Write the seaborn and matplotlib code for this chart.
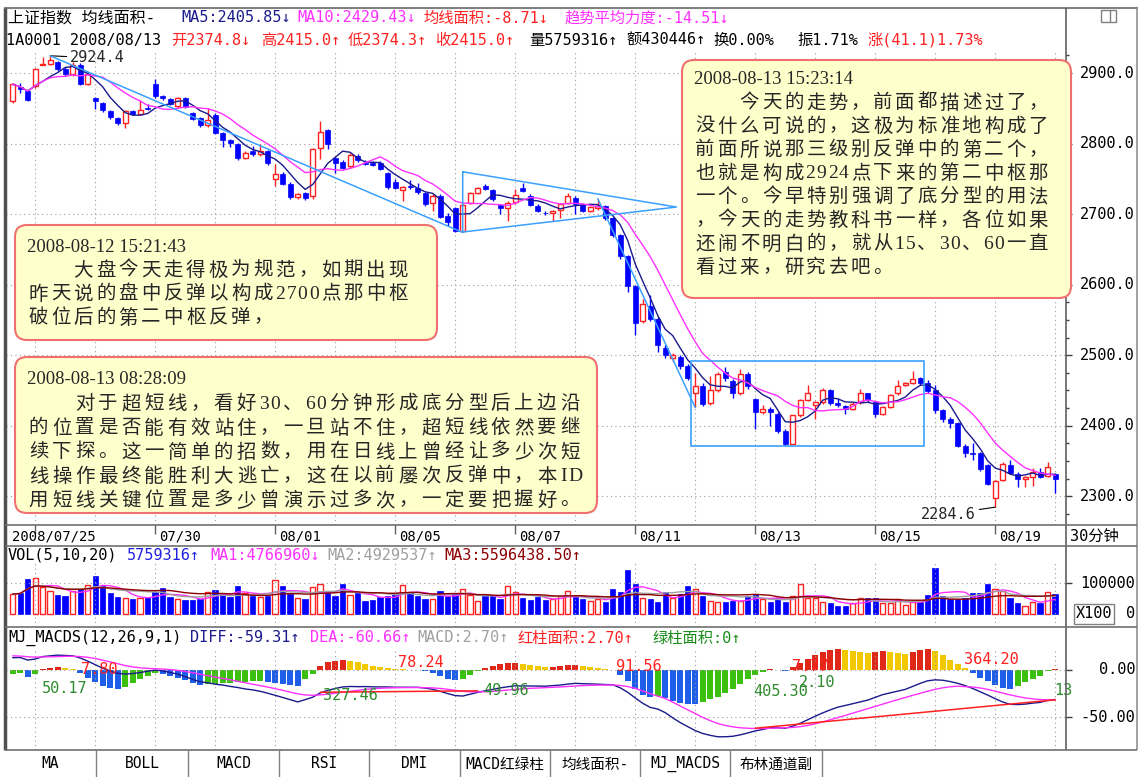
import numpy as np
import pandas as pd
import matplotlib
matplotlib.use("Agg")
import matplotlib.pyplot as plt
from matplotlib.patches import FancyBboxPatch, Rectangle
import seaborn as sns

# 30 minute bars of the Shanghai composite, 2008/07/25 .. 2008/08/19
opens = [2861, 2880, 2875, 2881, 2912, 2913, 2915, 2906, 2898, 2912,
         2885, 2864, 2857, 2846, 2836, 2829, 2846, 2842, 2850, 2884,
         2867, 2863, 2853, 2864, 2843, 2836, 2826, 2841, 2815, 2805,
         2799, 2780, 2789, 2785, 2789, 2750, 2757, 2743, 2724, 2730,
         2726, 2793, 2819, 2779, 2774, 2768, 2783, 2773, 2772, 2773,
         2758, 2745, 2734, 2740, 2737, 2730, 2716, 2726, 2697, 2708,
         2676, 2716, 2730, 2740, 2734, 2713, 2709, 2717, 2737, 2726,
         2712, 2702, 2701, 2706, 2716, 2723, 2714, 2705, 2708, 2711,
         2694, 2670, 2640, 2598, 2548, 2570, 2552, 2510, 2496, 2498,
         2485, 2446, 2457, 2432, 2450, 2476, 2464, 2446, 2474, 2438,
         2419, 2424, 2417, 2393, 2374.8, 2415, 2437, 2430, 2433, 2451,
         2432, 2428, 2424, 2433, 2446, 2433, 2417, 2427, 2446, 2458,
         2460, 2467, 2460, 2450, 2422, 2410, 2404, 2372, 2362, 2361,
         2344, 2297, 2323, 2344, 2332, 2324, 2327, 2334, 2329, 2331]
highs = [2886, 2886, 2877, 2907, 2922, 2924.4, 2917, 2908, 2916, 2914,
         2900, 2866, 2859, 2848, 2838, 2848, 2848, 2862, 2856, 2892,
         2869, 2865, 2866, 2866, 2845, 2838, 2851, 2843, 2817, 2807,
         2801, 2789, 2796, 2799, 2791, 2771, 2759, 2745, 2730, 2732,
         2794, 2832, 2821, 2781, 2776, 2786, 2785, 2776, 2775, 2775,
         2760, 2750, 2740, 2748, 2744, 2732, 2728, 2728, 2701, 2710,
         2715, 2732, 2739, 2742, 2736, 2715, 2718, 2735, 2744, 2728,
         2714, 2704, 2706, 2716, 2730, 2725, 2716, 2712, 2722, 2713,
         2696, 2672, 2642, 2600, 2580, 2585, 2554, 2515, 2503, 2500,
         2487, 2475, 2461, 2470, 2476, 2483, 2466, 2480, 2476, 2440,
         2430, 2426, 2419, 2395, 2415.0, 2438, 2458, 2435, 2453, 2452,
         2440, 2430, 2433, 2452, 2447, 2435, 2428, 2445, 2465, 2462,
         2478, 2469, 2465, 2458, 2424, 2412, 2406, 2374, 2376, 2363,
         2346, 2323, 2348, 2352, 2334, 2329, 2340, 2340, 2348, 2333]
lows = [2858, 2872, 2860, 2879, 2911, 2912, 2903, 2896, 2896, 2883,
        2883, 2849, 2845, 2835, 2827, 2822, 2840, 2840, 2847, 2865,
        2862, 2854, 2851, 2850, 2833, 2824, 2824, 2813, 2795, 2795,
        2776, 2778, 2783, 2783, 2770, 2740, 2741, 2722, 2722, 2720,
        2722, 2778, 2792, 2758, 2764, 2766, 2774, 2769, 2768, 2762,
        2736, 2735, 2718, 2736, 2729, 2712, 2705, 2694, 2683, 2674,
        2674, 2714, 2728, 2734, 2719, 2700, 2690, 2715, 2731, 2711,
        2703, 2699, 2690, 2695, 2714, 2700, 2703, 2703, 2706, 2692,
        2668, 2636, 2590, 2528, 2545, 2548, 2505, 2496, 2490, 2480,
        2465, 2426, 2428, 2430, 2448, 2464, 2440, 2444, 2452, 2395,
        2416, 2400, 2390, 2372, 2374.3, 2412, 2435, 2409, 2431, 2430,
        2427, 2417, 2422, 2431, 2434, 2413, 2415, 2425, 2444, 2456,
        2459, 2458, 2447, 2418, 2405, 2397, 2370, 2355, 2352, 2336,
        2316, 2284.6, 2321, 2331, 2313, 2313, 2314, 2326, 2327, 2305]
closes = [2884, 2877, 2862, 2905, 2913, 2918, 2905, 2898, 2912, 2885,
          2898, 2860, 2847, 2837, 2829, 2846, 2842, 2847, 2849, 2867,
          2864, 2856, 2864, 2852, 2835, 2826, 2834, 2815, 2805, 2801,
          2780, 2787, 2785, 2789, 2772, 2757, 2743, 2724, 2728, 2723,
          2792, 2817, 2799, 2772, 2766, 2784, 2776, 2771, 2770, 2764,
          2738, 2737, 2738, 2738, 2731, 2714, 2726, 2696, 2689, 2676,
          2713, 2730, 2737, 2736, 2721, 2709, 2716, 2727, 2733, 2713,
          2705, 2701, 2704, 2714, 2726, 2715, 2705, 2710, 2711, 2694,
          2670, 2640, 2598, 2545, 2572, 2552, 2515, 2500, 2500, 2484,
          2468, 2457, 2431, 2450, 2474, 2467, 2446, 2474, 2457, 2419,
          2424, 2419, 2393, 2374, 2415.0, 2436, 2446, 2433, 2451, 2432,
          2429, 2424, 2431, 2446, 2436, 2417, 2426, 2443, 2457, 2460,
          2466, 2460, 2449, 2422, 2410, 2404, 2372, 2362, 2360, 2339,
          2318, 2321, 2346, 2333, 2325, 2327, 2334, 2328, 2342, 2325]
# volume in units of 100 shares
volumes = [65000, 69000, 112000, 118000, 88000, 76000, 62000, 59000, 76000, 80000,
           95000, 122000, 92000, 70000, 55000, 52000, 50000, 52000, 57000, 72000,
           83000, 55000, 48000, 45000, 47000, 50000, 72000, 77000, 66000, 55000,
           91000, 70000, 59000, 55000, 60000, 111000, 90000, 65000, 52000, 48000,
           88000, 97000, 70000, 59000, 96000, 62000, 70000, 42000, 45000, 55000,
           60000, 70000, 95000, 73000, 60000, 48000, 48000, 75000, 60000, 65000,
           80000, 62000, 42000, 58000, 60000, 48000, 90000, 72000, 52000, 45000,
           55000, 45000, 48000, 60000, 75000, 55000, 48000, 42000, 50000, 38000,
           80000, 72000, 141000, 99000, 51000, 48000, 40000, 72000, 54000, 65000,
           90000, 80000, 58000, 44000, 40000, 40000, 44000, 44000, 58000, 65000,
           48000, 40000, 51000, 40000, 57593, 97000, 51000, 51000, 40000, 37000,
           27000, 27000, 35000, 54000, 54000, 51000, 37000, 37000, 48000, 30000,
           40000, 40000, 62000, 149000, 58000, 48000, 48000, 51000, 70000, 70000,
           97000, 80000, 76000, 51000, 37000, 27000, 40000, 37000, 72000, 65000]
# MJ_MACDS(12,26,9,1): DEA line and MACD bars
dea = [15, 14.7, 14.0, 13.6, 13.7, 13.9, 14.2, 14.4, 14.5, 14.2,
       13.4, 12.1, 10.4, 8.5, 6.5, 4.7, 3.3, 2.3, 1.7, 1.4,
       1.0, 0.4, -0.4, -1.5, -2.9, -4.5, -6.0, -7.5, -8.9, -10.3,
       -12, -13.5, -15, -16.5, -18, -19.7, -21.5, -23.3, -25.2, -26.3,
       -26.7, -26.3, -25.5, -24.5, -23.4, -22.4, -21.6, -20.5, -19.8, -19.3,
       -18.9, -18.7, -18.6, -18.55, -18.5, -18.6, -18.9, -19.5, -20.4, -21.5,
       -22.5, -23, -23.1, -22.9, -22.5, -21.9, -21.2, -20.45, -19.85, -19.35,
       -18.95, -18.65, -18.3, -17.9, -17.4, -16.85, -16.45, -16.15, -15.95, -15.85,
       -15.8, -16.3, -17.5, -19.5, -22.1, -25, -27.7, -30, -34, -38,
       -42, -46, -50, -53.5, -56.5, -58.5, -60, -61, -61.5, -61.8,
       -61.8, -61.5, -61.2, -61, -60.66, -59.8, -58.5, -56.8, -54.8, -52.6,
       -50.3, -48, -45.6, -43.2, -40.8, -38.4, -36, -33.6, -31.3, -29,
       -26.8, -24.6, -22.4, -20.4, -18.8, -17.7, -17.1, -17.5, -18, -19,
       -20.5, -22.3, -24.3, -26.3, -28, -29.5, -30.5, -31.2, -31.5, -31.5]
macd = [-4, -3, -7, -4, 1, 2, 3, 2, 1, -3,
        -8, -13, -17, -19, -20, -18, -14, -10, -6, -3,
        -4, -6, -8, -11, -14, -16, -15, -15, -14, -14,
        -13, -13, -12, -12, -13, -14, -15, -16, -17, -10,
        -4, 4, 8, 10, 11, 10, 8, 6, 4, 3,
        2, 1, 0.8, 0.5, 0.4, -1, -3, -6, -9, -11,
        -10, -5, -1, 2, 4, 6, 7, 7.5, 6, 5,
        4, 3, 3.5, 4, 5, 5.5, 4, 3, 2, 1,
        0.5, -5, -12, -20, -26, -29, -27, -30, -33, -35,
        -35.5, -36, -34, -31, -28, -24, -20, -15, -10, -5,
        -2, 1, 0.5, -1, 2.7, 7, 12, 16, 19, 21,
        22, 21, 20, 19, 18, 19, 20, 19, 18, 17,
        19, 21, 22, 20, 16, 11, 6, 2, -3, -8,
        -12, -16, -19, -20, -17, -13, -9, -6, -1, 0.8]
date_labels = ["2008/07/25", "07/30", "08/01", "08/05", "08/07",
               "08/11", "08/13", "08/15", "08/19"]
date_bars = [3, 19, 35, 51, 67, 83, 99, 115, 131]
price_ticks = [2300, 2400, 2500, 2600, 2700, 2800, 2900]
tabs = ["MA", "BOLL", "MACD", "RSI", "DMI", "MACD红绿柱", "均线面积-", "MJ_MACDS", "布林通道副"]

note1 = ["2008-08-12 15:21:43",
         "\u3000\u3000大盘今天走得极为规范，如期出现",
         "昨天说的盘中反弹以构成2700点那中枢",
         "破位后的第二中枢反弹，"]
note2 = ["2008-08-13 08:28:09",
         "\u3000\u3000对于超短线，看好30、60分钟形成底分型后上边沿",
         "的位置是否能有效站住，一旦站不住，超短线依然要继",
         "续下探。这一简单的招数，用在日线上曾经让多少次短",
         "线操作最终能胜利大逃亡，这在以前屡次反弹中，本ID",
         "用短线关键位置是多少曾演示过多次，一定要把握好。"]
note3 = ["2008-08-13 15:23:14",
         "\u3000\u3000今天的走势，前面都描述过了，",
         "没什么可说的，这极为标准地构成了",
         "前面所说那三级别反弹中的第二个，",
         "也就是构成2924点下来的第二中枢那",
         "一个。今早特别强调了底分型的用法",
         "，今天的走势教科书一样，各位如果",
         "还闹不明白的，就从15、30、60一直",
         "看过来，研究去吧。"]

sns.set_theme(style="white")
MONO = ["DejaVu Sans Mono", "Noto Sans CJK SC"]
SERIF = ["Liberation Serif", "Noto Sans CJK SC"]
plt.rcParams["font.family"] = MONO

W, H = 1141, 777
X0, DX = 12.7, 7.5
RED, BLUE, NAVY, MAG = "#FF2020", "#0000FF", "#1A1A8C", "#FF30FF"
LB = "#3AA0FF"
GRID = dict(colors="#9A9A9A", lw=0.8, linestyles=(0, (1, 3)))


def px_bar(px):
    return (px - X0) / DX


def py_price(py):
    return 2900 - (py - 73) / 0.7055


def py_vol(py):
    return (614.3 - py) / 31.1 * 100000


def py_macd(py):
    return (670 - py) / 0.947


fig = plt.figure(figsize=(W / 100, H / 100), dpi=100)


def add_ax(x0, y0, x1, y1):
    ax = fig.add_axes([x0 / W, 1 - y1 / H, (x1 - x0) / W, (y1 - y0) / H])
    ax.axis("off")
    return ax


df = pd.DataFrame({"open": opens, "high": highs, "low": lows,
                   "close": closes, "vol": volumes})
df["x"] = np.arange(len(df))
up = df[df.close >= df.open]
dn = df[df.close < df.open]
grid_bars = np.arange(3, len(df), 8)

# ---- price panel ----
pax = add_ax(6, 8, 1066, 525)
pax.hlines(price_ticks, px_bar(6), px_bar(1066), **GRID)
pax.vlines(grid_bars, py_price(525), py_price(50), **GRID)
pax.vlines(dn.x, dn.low, dn.high, color=BLUE, lw=1)
pax.bar(dn.x, (dn.open - dn.close).clip(lower=0.9), bottom=dn.close,
        width=0.7, color=BLUE, edgecolor=BLUE, lw=0.5, zorder=3)
pax.vlines(up.x, up.close, up.high, color=RED, lw=1)
pax.vlines(up.x, up.low, up.open, color=RED, lw=1)
pax.bar(up.x, (up.close - up.open).clip(lower=0.9), bottom=up.open,
        width=0.7, facecolor="white", edgecolor=RED, lw=1, zorder=3)
sns.lineplot(x=df.x, y=df.close.rolling(5, min_periods=1).mean(), ax=pax,
             color=NAVY, lw=1, zorder=4)
sns.lineplot(x=df.x, y=df.close.rolling(10, min_periods=1).mean(), ax=pax,
             color=MAG, lw=1, zorder=4)
# hand drawn lines
pax.plot([5, 60], [2924.4, 2674], color=LB, lw=1.1, zorder=5)
pax.plot([60, 60, 88.5, 60], [2760, 2674.6, 2710, 2760], color=LB, lw=1.1, zorder=5)
pax.plot([78, 91], [2722, 2426], color=LB, lw=1.1, zorder=5)
pax.add_patch(Rectangle((90.5, 2371.3), 31, 120.5, fill=False, edgecolor=LB,
                        lw=1.2, zorder=5))
arrow = dict(arrowstyle="-", color="black", lw=0.8, shrinkA=0, shrinkB=0)
pax.annotate("2924.4", xy=(5, 2924.4), xytext=(px_bar(70), py_price(58)),
             fontsize=11, ha="left", va="center", arrowprops=arrow)
pax.annotate("2284.6", xy=(131, 2284.6), xytext=(px_bar(976), py_price(514)),
             fontsize=11, ha="right", va="center", arrowprops=arrow)
pax.set_xlim(px_bar(6), px_bar(1066))
pax.set_ylim(py_price(525), py_price(8))

# ---- volume panel ----
vax = add_ax(6, 546, 1066, 627)
vax.hlines([100000], px_bar(6), px_bar(1066), **GRID)
vax.vlines(grid_bars, py_vol(627), py_vol(563), **GRID)
vax.bar(dn.x, dn.vol, width=0.72, color=BLUE, edgecolor=BLUE, lw=0.5)
vax.bar(up.x, up.vol, width=0.72, facecolor="white", edgecolor=RED, lw=1)
for n, c in [(5, MAG), (10, "#A0A0A0"), (20, "#8B0000")]:
    sns.lineplot(x=df.x, y=df.vol.rolling(n, min_periods=1).mean(), ax=vax,
                 color=c, lw=1, zorder=4)
vax.set_xlim(px_bar(6), px_bar(1066))
vax.set_ylim(py_vol(627), py_vol(546))

# ---- MJ_MACDS panel ----
mac = pd.Series(macd, dtype=float)
dea_s = pd.Series(dea, dtype=float)
diff_s = dea_s + mac / 2
cols = []
for i, v in enumerate(macd):
    p = macd[i - 1] if i else v - 1
    if v >= 0:
        cols.append("#E02818" if v >= p else "#F2C800")
    else:
        cols.append("#1E5EE8" if v < p else "#3CC010")
max_ = add_ax(6, 627, 1066, 750)
max_.hlines([0, -50], px_bar(6), px_bar(1066), **GRID)
max_.vlines(grid_bars, py_macd(750), py_macd(648), **GRID)
max_.bar(df.x, mac, width=0.82, color=cols, lw=0)
sns.lineplot(x=df.x, y=diff_s, ax=max_, color=NAVY, lw=1, zorder=4)
sns.lineplot(x=df.x, y=dea_s, ax=max_, color=MAG, lw=1, zorder=4)
max_.plot([41, 62], [-23.5, -22], color=RED, lw=1.1, zorder=5)
max_.plot([99, 139], [-61.5, -31.5], color=RED, lw=1.1, zorder=5)
GR = "#2E8B2E"
for s, xb, yv, c in [("50.17", 3.9, -20, GR), ("7.80", 9.1, 0, RED),
                     ("327.46", 41.4, -27, GR), ("78.24", 51.4, 8, RED),
                     ("49.96", 62.7, -22, GR), ("91.56", 80.4, 3.5, RED),
                     ("405.30", 98.7, -23, GR), ("7.77", 103.9, 3.5, RED),
                     ("2.10", 104.8, -13, GR), ("364.20", 126.8, 11.6, RED),
                     ("13", 138.8, -22, GR)]:
    max_.text(xb, yv, s, color=c, fontsize=11, ha="left", va="center", zorder=6)
max_.set_xlim(px_bar(6), px_bar(1066))
max_.set_ylim(py_macd(750), py_macd(627))

# ---- overlay in pixel coordinates: frame, texts, notes ----
ov = fig.add_axes([0, 0, 1, 1])
ov.axis("off")


def txt(x, y, s, color="black", size=11, ha="left", family=MONO):
    ov.text(x, y, s, color=color, fontsize=size, ha=ha, va="center", family=family)


def line(xs, ys, c="#707070", lw=1.2):
    ov.plot(xs, ys, color=c, lw=lw, solid_capstyle="butt")


line([4, 1138], [8, 8], "#808080", 1.5)
line([5, 5], [8, 750], "#505050", 2.5)
line([1066, 1066], [8, 750], "#606060", 1.2)
line([1137, 1137], [8, 750], "#909090", 1.2)
for y in (525, 546, 627, 750):
    line([5, 1137], [y, y])
ov.add_patch(Rectangle((1101, 10), 15, 12, fill=False, edgecolor="#808080", lw=1))
line([1110, 1110], [10, 22], "#808080", 1)

# headers
txt(8, 18, "上证指数 均线面积-", size=11.5)
txt(181, 18, "MA5:2405.85↓", NAVY)
txt(297, 18, "MA10:2429.43↓", MAG)
txt(423, 18, "均线面积:-8.71↓", RED)
txt(565, 18, "趋势平均力度:-14.51↓", MAG)
txt(6, 40, "1A0001 2008/08/13")
for x, s, c in [(171, "开2374.8↓", RED), (261, "高2415.0↑", RED), (348, "低2374.3↑", RED),
                (435, "收2415.0↑", RED), (529, "量5759316↑", "black"),
                (626, "额430446↑", "black"), (713, "换0.00%", "black"),
                (797, "振1.71%", "black"), (868, "涨(41.1)1.73%", RED)]:
    txt(x, 40, s, c)
txt(8, 555, "VOL(5,10,20)")
txt(127, 555, "5759316↑", "#2020E0")
txt(210, 555, "MA1:4766960↓", MAG)
txt(327, 555, "MA2:4929537↑", "#A0A0A0")
txt(444, 555, "MA3:5596438.50↑", "#8B0000")
txt(8, 638, "MJ_MACDS(12,26,9,1)")
txt(190, 638, "DIFF:-59.31↑", NAVY)
txt(310, 638, "DEA:-60.66↑", MAG)
txt(417, 638, "MACD:2.70↑", "#A0A0A0")
txt(517, 638, "红柱面积:2.70↑", RED)
txt(652, 638, "绿柱面积:0↑", "#1A8C1A")

# right axis labels
for p in price_ticks:
    y = 73 + (2900 - p) * 0.7055
    line([1066, 1072], [y, y], "#404040", 1)
    txt(1135, y, f"{p:.1f}", ha="right")
for p in range(2275, 2951, 25):
    if p % 100:
        y = 73 + (2900 - p) * 0.7055
        if 55 < y < 522:
            line([1066, 1069], [y, y], "#404040", 1)
line([1066, 1072], [583.2, 583.2], "#404040", 1)
txt(1135, 583.2, "100000", ha="right")
ov.add_patch(Rectangle((1074, 604), 40, 20, fill=False, edgecolor="#808080", lw=1))
txt(1094, 614, "X100", ha="center")
txt(1135, 614, "0", ha="right")
for v, s in [(0, "0.00"), (-50, "-50.00")]:
    y = 670 - v * 0.947
    line([1066, 1072], [y, y], "#404040", 1)
    txt(1135, y, s, ha="right")

# date row
for i, (b, s) in enumerate(zip(date_bars, date_labels)):
    xt = X0 + DX * b
    line([xt, xt], [525, 534], "#606060", 1)
    txt(12 if i == 0 else xt + 4, 536, s, size=10)
txt(1070, 536, "30分钟")

# bottom tabs
edges = [5, 96, 188, 279, 369, 460, 550, 640, 730, 822]
for a, b, s in zip(edges[:-1], edges[1:], tabs):
    line([b, b], [750, 777], "#808080", 1)
    txt((a + b) / 2, 764, s, ha="center", size=10.5)


# notes
def note(x0, y0, x1, y1, lines_, y_first, step, adv):
    ov.add_patch(FancyBboxPatch((x0, y0), x1 - x0, y1 - y0,
                                boxstyle="round,pad=0,rounding_size=12",
                                facecolor="#FFFFCC", edgecolor="#F07070", lw=1.5, zorder=8))
    ov.text(x0 + 12, y_first, lines_[0], fontsize=13.5, family=SERIF,
            ha="left", va="center", zorder=9)
    for k, s in enumerate(lines_[1:]):
        cx = x0 + 12
        y = y_first + step * (k + 1)
        for ch in s:
            w = adv if ord(ch) > 0x2000 else adv / 2
            if ch != "\u3000":
                ov.text(cx + w / 2, y, ch, fontsize=14, family=SERIF,
                        ha="center", va="center", zorder=9)
            cx += w


note(15, 225, 437, 340, note1, 247, 23.7, 22.5)
note(15, 357, 597, 513, note2, 380, 24.2, 23.1)
note(682, 60, 1071, 298, note3, 80, 23.5, 22.2)

ov.set_xlim(0, W)
ov.set_ylim(H, 0)
fig.savefig("out.png", dpi=100)
